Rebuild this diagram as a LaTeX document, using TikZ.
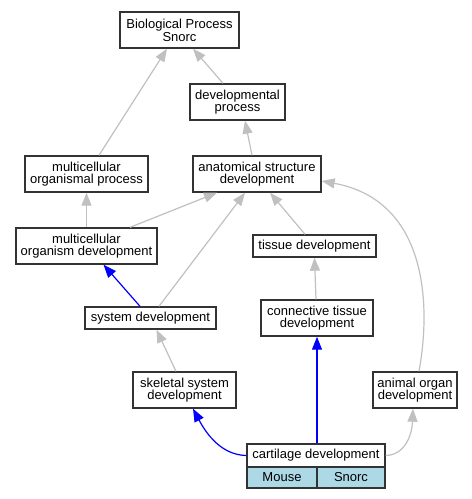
\documentclass[tikz,border=0pt]{standalone}
\usepackage{fontspec}
\setmainfont{Liberation Sans}
\usetikzlibrary{arrows.meta}
\definecolor{edgegray}{HTML}{C0C0C0}
\definecolor{cellblue}{HTML}{ADD8E6}
\begin{document}
\begin{tikzpicture}
        [x=1pt,y=-1pt,
        every node/.style={draw=black!80,line width=1.4pt,fill=white,inner sep=0pt,align=center,
          font=\fontsize{13}{12.7}\selectfont},
        term/.style={minimum height=36pt},
        slim/.style={minimum height=22pt},
        cell/.style={fill=cellblue,minimum height=21pt},
        isa/.style={draw=edgegray,line width=1.2pt,-{Triangle[length=13pt,width=10pt]}},
        partof/.style={draw=blue,line width=1.2pt,-{Triangle[length=13pt,width=10pt]}}]
        \useasboundingbox (0,0) rectangle (472,499);
        \node[term,minimum width=119pt] (bp) at (179.5,30) {Biological Process\\Snorc};
        \node[term,minimum width=95pt] (dp) at (237.5,102) {developmental\\process};
        \node[term,minimum width=123pt] (mop) at (86.5,174) {multicellular\\organismal process};
        \node[term,minimum width=128pt] (asd) at (257,174) {anatomical structure\\development};
        \node[term,minimum width=141pt] (mod) at (86.5,246) {multicellular\\organism development};
        \node[slim,minimum width=123pt] (td) at (314.5,246) {tissue development};
        \node[slim,minimum width=131pt] (sd) at (150.5,318) {system development};
        \node[term,minimum width=112pt] (ctd) at (317,318) {connective tissue\\development};
        \node[term,minimum width=103pt] (ssd) at (184.5,390) {skeletal system\\development};
        \node[term,minimum width=84pt] (aod) at (415,390) {animal organ\\development};
        \node[minimum width=138pt,minimum height=23pt] (cart) at (316,455.5) {cartilage development};
        \node[cell,minimum width=70pt] (mouse) at (282,477.5) {Mouse};
        \node[cell,minimum width=68pt] (snorc) at (351,477.5) {Snorc};
        \draw[isa] ([xshift=12.5pt]mop.north) -- ([xshift=-12.5pt]bp.south);
        \draw[isa] ([xshift=-14.5pt]dp.north) -- ([xshift=13.5pt]bp.south);
        \draw[isa] ([xshift=-5pt]asd.north) -- ([xshift=7.5pt]dp.south);
        \draw[isa] (mod.north) -- (mop.south);
        \draw[isa] ([xshift=43.5pt]mod.north) -- ([xshift=-40pt]asd.south);
        \draw[isa] ([xshift=8.5pt]sd.north) -- ([xshift=-12pt]asd.south);
        \draw[isa] ([xshift=-9.5pt]td.north) -- ([xshift=13pt]asd.south);
        \draw[isa] ([xshift=4pt]aod.north) .. controls (432,300) and (425,200) .. ([yshift=-7pt]asd.east);
        \draw[partof] ([xshift=-10.5pt]sd.north) -- ([xshift=17pt]mod.south);
        \draw[isa] ([xshift=-1pt]ctd.north) -- (td.south);
        \draw[isa] ([xshift=-8.5pt]ssd.north) -- ([xshift=6pt]sd.south);
        \draw[partof] (cart.west) .. controls (222,455) and (207,435) .. ([xshift=8.5pt]ssd.south);
        \draw[partof] ([xshift=1pt]cart.north) -- (ctd.south);
        \draw[isa] (cart.east) .. controls (405,455) and (412,435) .. ([xshift=-2pt]aod.south);
        \end{tikzpicture}
\end{document}
